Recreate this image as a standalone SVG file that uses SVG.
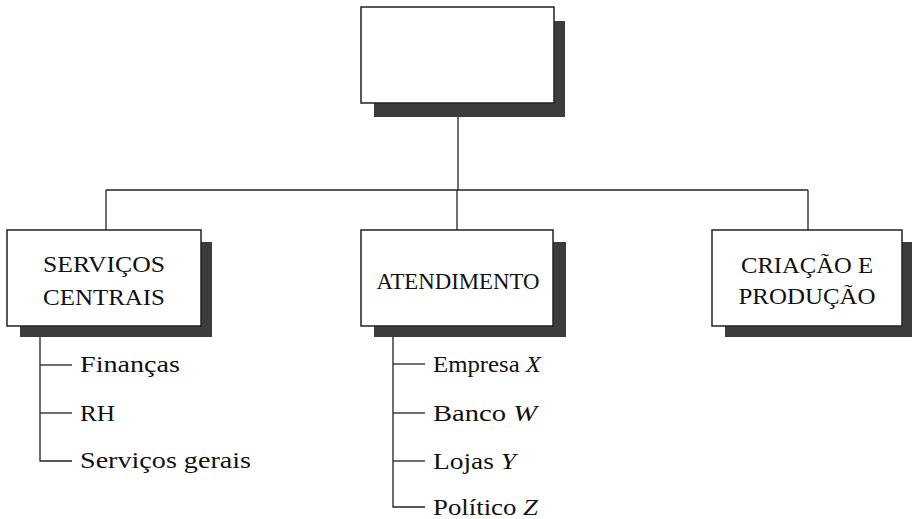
<svg xmlns="http://www.w3.org/2000/svg" width="912" height="519" viewBox="0 0 912 519">
<style>
.box{fill:#fff;stroke:#222;stroke-width:1.5}
.sh{fill:#3c3c3c}
.ln{stroke:#222;stroke-width:1.3;fill:none}
.t{font-family:"Liberation Serif","Times New Roman",serif;font-size:24px;fill:#111}
.c{text-anchor:middle}
</style>
<g id="connectors">
<line class="ln" x1="458" y1="117" x2="458" y2="190"/>
<line class="ln" x1="106" y1="190" x2="808" y2="190"/>
<line class="ln" x1="106" y1="190" x2="106" y2="230"/>
<line class="ln" x1="457" y1="190" x2="457" y2="230"/>
<line class="ln" x1="808" y1="190" x2="808" y2="230"/>
<polyline class="ln" points="40,337 40,461 72,461"/>
<line class="ln" x1="40" y1="365" x2="72" y2="365"/>
<line class="ln" x1="40" y1="413" x2="72" y2="413"/>
<polyline class="ln" points="393,337 393,507 425,507"/>
<line class="ln" x1="393" y1="364" x2="425" y2="364"/>
<line class="ln" x1="393" y1="413" x2="425" y2="413"/>
<line class="ln" x1="393" y1="461" x2="425" y2="461"/>
</g>
<g id="top">
<rect class="sh" x="374" y="21" width="191" height="96"/>
<rect class="box" x="361" y="7" width="193" height="96"/>
</g>
<g id="servicos">
<rect class="sh" x="20" y="242" width="192" height="95"/>
<rect class="box" x="7" y="230" width="194" height="96"/>
<text class="t c" x="104" y="272" textLength="122" lengthAdjust="spacingAndGlyphs">SERVIÇOS</text>
<text class="t c" x="104" y="305" textLength="122" lengthAdjust="spacingAndGlyphs">CENTRAIS</text>
</g>
<g id="atendimento">
<rect class="sh" x="374" y="242" width="192" height="95"/>
<rect class="box" x="361" y="230" width="192" height="96"/>
<text class="t c" x="458" y="289" textLength="163" lengthAdjust="spacingAndGlyphs">ATENDIMENTO</text>
</g>
<g id="criacao">
<rect class="sh" x="725" y="242" width="187" height="95"/>
<rect class="box" x="712" y="230" width="190" height="96"/>
<text class="t c" x="807" y="273" textLength="132" lengthAdjust="spacingAndGlyphs">CRIAÇÃO E</text>
<text class="t c" x="807" y="304" textLength="137" lengthAdjust="spacingAndGlyphs">PRODUÇÃO</text>
</g>
<g id="servicos-items">
<text class="t" x="80" y="372" textLength="100" lengthAdjust="spacingAndGlyphs">Finanças</text>
<text class="t" x="80" y="421" textLength="35" lengthAdjust="spacingAndGlyphs">RH</text>
<text class="t" x="80" y="468" textLength="171" lengthAdjust="spacingAndGlyphs">Serviços gerais</text>
</g>
<g id="atendimento-items">
<text class="t" x="433" y="372" textLength="108" lengthAdjust="spacingAndGlyphs">Empresa <tspan font-style="italic">X</tspan></text>
<text class="t" x="433" y="421" textLength="104" lengthAdjust="spacingAndGlyphs">Banco <tspan font-style="italic">W</tspan></text>
<text class="t" x="433" y="469" textLength="83" lengthAdjust="spacingAndGlyphs">Lojas <tspan font-style="italic">Y</tspan></text>
<text class="t" x="433" y="515" textLength="105" lengthAdjust="spacingAndGlyphs">Político <tspan font-style="italic">Z</tspan></text>
</g>
</svg>
